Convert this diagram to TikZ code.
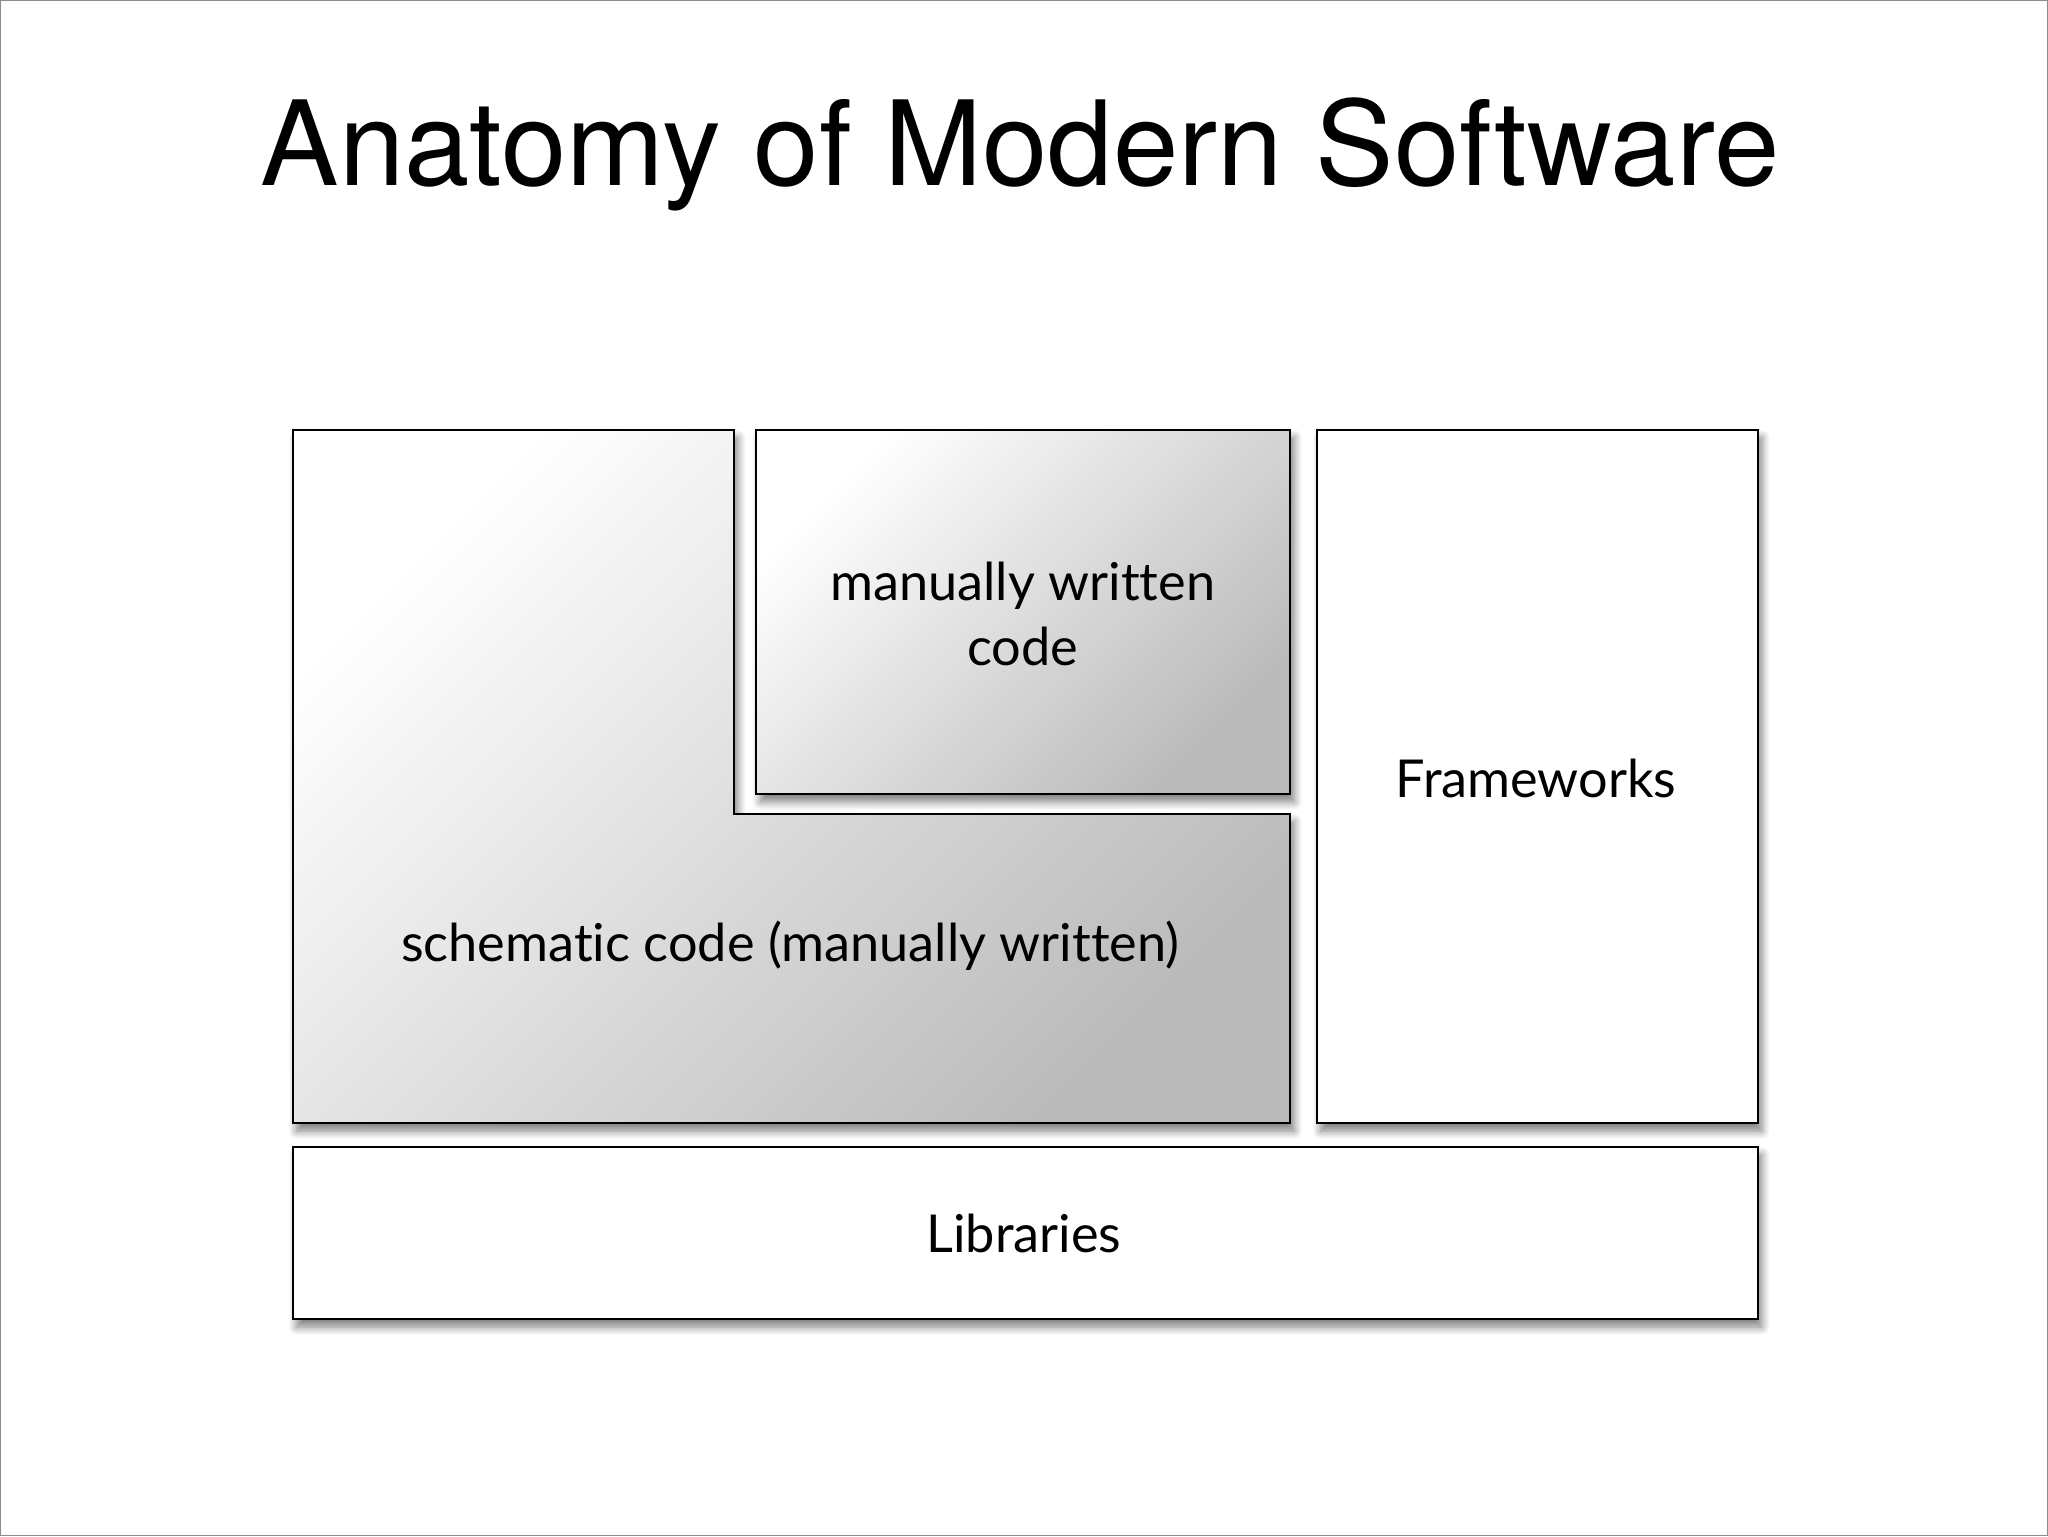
\documentclass[tikz,border=0pt]{standalone}
\usepackage{fontspec}
\setmainfont{Lato}[Ligatures=NoCommon]
\newfontfamily\titlefont{TeX Gyre Heros}
\usetikzlibrary{shadows.blur}
\begin{document}
\begin{tikzpicture}[x=1pt,y=-1pt,
  box/.style={draw=black,line width=1.5pt,blur shadow={shadow xshift=3pt,shadow yshift=-6pt,shadow blur steps=8,shadow blur radius=6pt,shadow opacity=50}},
  grad/.style={box,top color=white,bottom color=black!27,shading angle=45},
  lbl/.style={font=\fontsize{40}{50}\selectfont,align=center}]
\useasboundingbox (0,0) rectangle (1568,1176);
\draw[black!45,line width=1pt] (0.5,0.5) rectangle (1567.5,1175.5);
\node[font=\titlefont\fontsize{90}{104}\selectfont] (title) at (781,118) {Anatomy of Modern Software};
\path[box,fill=white] (224,878) rectangle (1346,1010);
\path[box,fill=white] (1008,329) rectangle (1346,860);
\path[grad] (224,329) -- (562,329) -- (562,623) -- (988,623) -- (988,860) -- (224,860) -- cycle;
\path[grad] (579,329) rectangle (988,608);
\node[lbl] (man) at (783,470) {manually written\\code};
\node[lbl] (sch) at (605,724) {schematic code (manually written)};
\node[lbl] (fw) at (1176,596) {Frameworks};
\node[lbl] (lib) at (784,944) {Libraries};
\end{tikzpicture}
\end{document}
